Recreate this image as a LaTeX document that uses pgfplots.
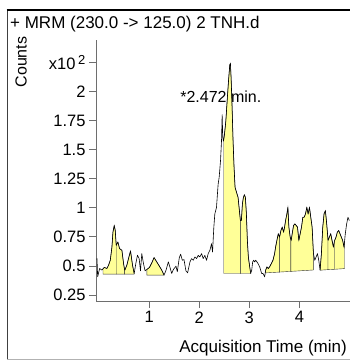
\documentclass[border=0pt]{standalone}
\usepackage{fontspec}
\setmainfont{Liberation Sans}
\usepackage{pgfplots}
\pgfplotsset{compat=1.18}
\usepackage{pgfplotstable}
\definecolor{yfill}{RGB}{255,255,152}
\definecolor{axgray}{RGB}{110,110,110}

\pgfplotstableread{
x y
-0.040 0.564
-0.027 0.407
0.013 0.478
0.059 0.464
0.080 0.476
0.105 0.487
0.158 0.478
0.191 0.507
0.225 0.549
0.258 0.663
0.278 0.791
0.304 0.848
0.324 0.806
0.344 0.677
0.377 0.706
0.410 0.649
0.457 0.635
0.490 0.521
0.510 0.470
0.516 0.464
0.556 0.507
0.589 0.564
0.629 0.629
0.669 0.507
0.702 0.435
0.735 0.521
0.768 0.592
0.801 0.564
0.828 0.458
0.854 0.606
0.887 0.521
0.920 0.458
0.954 0.469
1.007 0.487
1.053 0.526
1.099 0.572
1.152 0.535
1.205 0.498
1.252 0.464
1.298 0.421
1.338 0.464
1.384 0.535
1.417 0.487
1.451 0.435
1.484 0.469
1.537 0.498
1.563 0.450
1.603 0.572
1.630 0.601
1.663 0.549
1.696 0.555
1.735 0.458
1.769 0.441
1.815 0.534
1.848 0.563
1.881 0.549
1.914 0.577
1.948 0.563
1.981 0.591
2.014 0.577
2.047 0.606
2.080 0.563
2.113 0.591
2.146 0.549
2.179 0.606
2.213 0.634
2.246 0.691
2.266 0.620
2.292 0.834
2.312 0.948
2.345 1.004
2.378 1.204
2.398 1.261
2.425 1.403
2.445 1.574
2.458 1.802
2.471 1.603
2.484 1.574
2.490 1.590
2.504 1.631
2.531 1.745
2.557 1.916
2.584 2.087
2.610 2.230
2.623 2.244
2.637 2.116
2.657 1.859
2.676 1.574
2.696 1.346
2.716 1.175
2.736 1.147
2.756 1.118
2.776 1.090
2.796 1.004
2.822 0.891
2.842 0.891
2.862 1.033
2.882 1.090
2.902 1.113
2.922 1.090
2.942 0.948
2.961 0.720
2.981 0.577
3.008 0.492
3.028 0.435
3.048 0.463
3.067 0.534
3.087 0.549
3.107 0.534
3.127 0.549
3.154 0.534
3.174 0.520
3.207 0.492
3.227 0.463
3.246 0.435
3.273 0.435
3.306 0.406
3.326 0.463
3.352 0.492
3.379 0.477
3.405 0.492
3.439 0.520
3.472 0.549
3.505 0.606
3.525 0.663
3.551 0.720
3.578 0.777
3.600 0.752
3.604 0.748
3.631 0.805
3.657 0.834
3.684 0.791
3.704 0.834
3.724 0.891
3.750 0.948
3.770 1.004
3.790 0.834
3.816 0.748
3.830 0.728
3.836 0.720
3.856 0.777
3.883 0.848
3.909 0.862
3.936 0.848
3.962 0.834
3.989 0.720
4.015 0.777
4.042 0.834
4.068 0.919
4.095 0.919
4.121 0.948
4.148 1.004
4.174 0.948
4.201 1.004
4.227 0.919
4.254 0.834
4.280 0.606
4.307 0.549
4.333 0.577
4.360 0.606
4.386 0.549
4.413 0.463
4.439 0.606
4.466 0.834
4.492 0.948
4.519 0.976
4.545 0.862
4.570 0.730
4.572 0.720
4.598 0.748
4.625 0.777
4.651 0.720
4.678 0.663
4.700 0.714
4.704 0.720
4.731 0.748
4.757 0.791
4.784 0.805
4.810 0.777
4.837 0.748
4.863 0.720
4.890 0.663
4.900 0.707
4.916 0.777
4.943 0.862
4.969 0.919
4.996 0.891
}\chrom

\begin{document}
\begin{tikzpicture}
\useasboundingbox (-96pt,-60pt) rectangle (254pt,301pt);
\draw[line width=1.6pt, black!75] (-88.5pt,-58pt) -- (-88.5pt,291pt);
\draw[line width=1.8pt, black] (-89.3pt,291pt) -- (254pt,291pt);
\draw[line width=1pt, black!30] (-88.5pt,-58pt) -- (254pt,-58pt);
\node[anchor=west, font=\fontsize{17}{20}\selectfont, inner sep=0pt] at (-86pt,277pt) {+ MRM (230.0 -> 125.0) 2 TNH.d};
\node[rotate=90, font=\fontsize{16}{19}\selectfont, inner sep=0pt] at (-75pt,239pt) {Counts};
\begin{axis}[
  scale only axis, width=254pt, height=261pt,
  xmin=-0.06, xmax=5.01, ymin=0.198, ymax=2.445,
  axis lines=left,
  axis line style={-, draw=axgray, line width=0.8pt},
  xtick={1,2,3,4}, xticklabels={1,2,3,4},
  ytick={0.25,0.5,0.75,1,1.25,1.5,1.75,2,2.25},
  yticklabels={0.25,0.5,0.75,1,1.25,1.5,1.75,2,{x10\,\raisebox{5pt}{\fontsize{13}{15}\selectfont 2}}},
  tick align=outside, major tick length=7pt,
  tick style={draw=axgray, line width=0.8pt},
  ticklabel style={font=\fontsize{16.5}{19}\selectfont},
  clip=false,
]
\addplot[fill=yfill, draw=black!80, line width=0.4pt] coordinates {(0.080,0.430) (0.080,0.476) (0.105,0.487) (0.158,0.478) (0.191,0.507) (0.225,0.549) (0.258,0.663) (0.278,0.791) (0.304,0.848) (0.324,0.806) (0.344,0.677) (0.344,0.430)} -- cycle;
\addplot[fill=yfill, draw=black!80, line width=0.4pt] coordinates {(0.344,0.430) (0.344,0.677) (0.377,0.706) (0.410,0.649) (0.457,0.635) (0.490,0.521) (0.510,0.470) (0.510,0.430)} -- cycle;
\addplot[fill=yfill, draw=black!80, line width=0.4pt] coordinates {(0.510,0.430) (0.510,0.470) (0.516,0.464) (0.556,0.507) (0.589,0.564) (0.629,0.629) (0.669,0.507) (0.702,0.435) (0.702,0.430)} -- cycle;
\addplot[fill=yfill, draw=black!80, line width=0.4pt] coordinates {(0.954,0.421) (0.954,0.469) (1.007,0.487) (1.053,0.526) (1.099,0.572) (1.152,0.535) (1.205,0.498) (1.252,0.464) (1.298,0.421)} -- cycle;
\addplot[fill=yfill, draw=black!80, line width=0.4pt] coordinates {(2.490,0.435) (2.490,1.590) (2.504,1.631) (2.531,1.745) (2.557,1.916) (2.584,2.087) (2.610,2.230) (2.623,2.244) (2.637,2.116) (2.657,1.859) (2.676,1.574) (2.696,1.346) (2.716,1.175) (2.736,1.147) (2.756,1.118) (2.776,1.090) (2.796,1.004) (2.822,0.891) (2.822,0.435)} -- cycle;
\addplot[fill=yfill, draw=black!80, line width=0.4pt] coordinates {(2.822,0.435) (2.822,0.891) (2.842,0.891) (2.862,1.033) (2.882,1.090) (2.902,1.113) (2.922,1.090) (2.942,0.948) (2.961,0.720) (2.981,0.577) (3.008,0.492) (3.028,0.435)} -- cycle;
\addplot[fill=yfill, draw=black!80, line width=0.4pt] coordinates {(3.326,0.440) (3.326,0.463) (3.352,0.492) (3.379,0.477) (3.405,0.492) (3.439,0.520) (3.472,0.549) (3.505,0.606) (3.525,0.663) (3.551,0.720) (3.578,0.777) (3.600,0.752) (3.600,0.447)} -- cycle;
\addplot[fill=yfill, draw=black!80, line width=0.4pt] coordinates {(3.600,0.447) (3.600,0.752) (3.604,0.748) (3.631,0.805) (3.657,0.834) (3.684,0.791) (3.704,0.834) (3.724,0.891) (3.750,0.948) (3.770,1.004) (3.790,0.834) (3.816,0.748) (3.830,0.728) (3.830,0.453)} -- cycle;
\addplot[fill=yfill, draw=black!80, line width=0.4pt] coordinates {(3.830,0.453) (3.830,0.728) (3.836,0.720) (3.856,0.777) (3.883,0.848) (3.909,0.862) (3.936,0.848) (3.962,0.834) (3.989,0.720) (4.015,0.777) (4.042,0.834) (4.068,0.919) (4.095,0.919) (4.121,0.948) (4.148,1.004) (4.174,0.948) (4.201,1.004) (4.227,0.919) (4.254,0.834) (4.280,0.606) (4.280,0.465)} -- cycle;
\addplot[fill=yfill, draw=black!80, line width=0.4pt] coordinates {(4.413,0.463) (4.439,0.606) (4.466,0.834) (4.492,0.948) (4.519,0.976) (4.545,0.862) (4.570,0.730) (4.570,0.468)} -- cycle;
\addplot[fill=yfill, draw=black!80, line width=0.4pt] coordinates {(4.570,0.468) (4.570,0.730) (4.572,0.720) (4.598,0.748) (4.625,0.777) (4.651,0.720) (4.678,0.663) (4.700,0.714) (4.700,0.471)} -- cycle;
\addplot[fill=yfill, draw=black!80, line width=0.4pt] coordinates {(4.700,0.471) (4.700,0.714) (4.704,0.720) (4.731,0.748) (4.757,0.791) (4.784,0.805) (4.810,0.777) (4.837,0.748) (4.863,0.720) (4.890,0.663) (4.900,0.707) (4.900,0.477)} -- cycle;
\node[anchor=west, inner sep=0pt, font=\fontsize{16}{19}\selectfont] at (axis cs:1.62,1.954) {*2.472 min.};
\addplot[black, line width=0.6pt, line join=round] table[x=x, y=y] {\chrom};
\node[anchor=east, inner sep=0pt, font=\fontsize{17}{20}\selectfont] at ([yshift=-47pt, xshift=-3pt]rel axis cs:1,0) {Acquisition Time (min)};
\end{axis}
\end{tikzpicture}
\end{document}
